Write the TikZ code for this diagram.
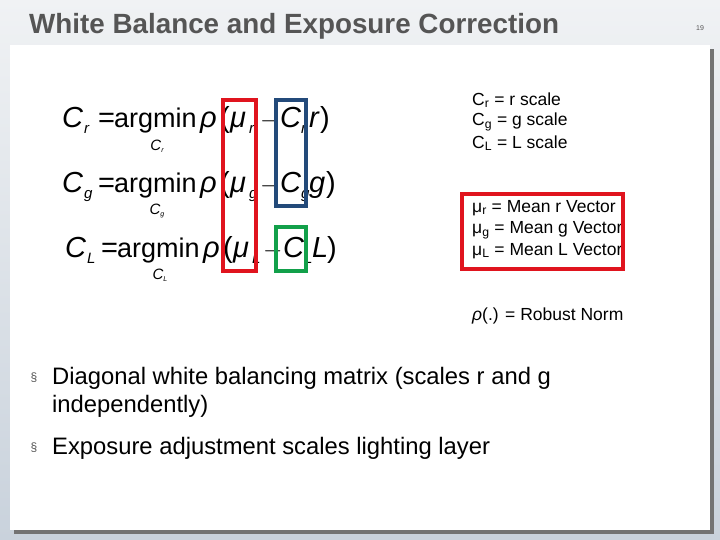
\documentclass[tikz,border=0pt]{standalone}
\usepackage{fontspec}
\setmainfont{Liberation Sans}
\begin{document}
\begin{tikzpicture}[x=1pt,y=-1pt,
  p/.style={anchor=base west,inner sep=0,font=\fontsize{29}{29}\selectfont},
  pa/.style={anchor=base west,inner sep=0,font=\fontsize{27}{27}\selectfont},
  pi/.style={p,font=\fontsize{29}{29}\selectfont\itshape},
  ps/.style={anchor=base west,inner sep=0,font=\fontsize{15}{15}\selectfont\itshape},
  sub/.style={inner sep=0,font=\fontsize{15}{15}\selectfont\itshape},
  note/.style={anchor=west,inner sep=0,font=\fontsize{17.5}{18}\selectfont},
  bul/.style={anchor=west,inner sep=0,font=\fontsize{23.8}{26}\selectfont},
  hbox/.style={line width=3.5pt}]
\definecolor{bgA}{HTML}{C9D2DC}\definecolor{bgB}{HTML}{F0F2F4}
\definecolor{myred}{HTML}{E0141E}\definecolor{myblue}{HTML}{234A7A}\definecolor{mygreen}{HTML}{12A04A}
\definecolor{tgray}{HTML}{555555}
\useasboundingbox (0,0) rectangle (720,540);
\shade[top color=bgB,bottom color=bgA] (0,0) rectangle (720,540);
\fill[black!55] (14,49) rectangle (714,534);
\fill[white] (10,45) rectangle (710,530);
\node[anchor=west,inner sep=0,font=\fontsize{27.8}{28}\selectfont\bfseries,text=tgray] (title) at (29,26) {White Balance and Exposure Correction};
\node[inner sep=0,font=\fontsize{7}{7}\selectfont,text=tgray] (pg) at (700,28) {19};
\foreach \dy/\dx/\s/\v/\n in {128/0/r/r/a, 193/0/g/g/b, 257/3/L/L/c}{
  \node[pi] (c\n) at (62+\dx,\dy) {C};
  \node[ps] (cs\n) at (84+\dx,\dy+6) {\s};
  \node[p] (eq\n) at (98+\dx,\dy) {=};
  \node[pa] (am\n) at (114+\dx,\dy) {argmin};
  \node[pi] (rh\n) at (200+\dx,\dy) {ρ};
  \node[p] (lp\n) at (220+\dx,\dy) {(};
  \node[pi] (mu\n) at (230+\dx,\dy) {μ};
  \node[ps] (ms\n) at (249+\dx,\dy+6) {\s};
  \node[p] (mn\n) at (260+\dx,\dy) {$-$};
  \node[pi] (c2\n) at (280+\dx,\dy) {C};
  \node[ps] (c2s\n) at (301+\dx,\dy+6) {\s};
  \node[pi] (v\n) at (309+\dx,\dy) {\v};
}
\node[p] (rpa) at (320,128) {)};
\node[p] (rpb) at (326,193) {)};
\node[p] (rpc) at (327,257) {)};
\node[sub] (s1) at (157,146) {C\raisebox{-0.3ex}{\scriptsize r}};
\node[sub] (s2) at (157,211) {C\raisebox{-0.3ex}{\scriptsize g}};
\node[sub] (s3) at (160,275) {C\raisebox{-0.3ex}{\scriptsize L}};
\draw[hbox,myred] (223,100) rectangle (256,271);
\draw[hbox,myblue] (276,100) rectangle (306,206);
\draw[hbox,mygreen] (276,227) rectangle (306,271);
\node[note] (n1) at (472,100) {C\textsubscript{r} = r scale};
\node[note] (n2) at (472,122) {C\textsubscript{g} = g scale};
\node[note] (n3) at (472,143) {C\textsubscript{L} = L scale};
\node[note] (m1) at (472,208) {μ\textsubscript{r} = Mean r Vector};
\node[note] (m2) at (472,230) {μ\textsubscript{g} = Mean g Vector};
\node[note] (m3) at (472,251) {μ\textsubscript{L} = Mean L Vector};
\fill[white] (624,195) rectangle (640,268);
\draw[hbox,myred] (462,194) rectangle (623,269);
\node[note] (rho) at (472,316) {{\itshape ρ}(.) = Robust Norm};
\node[inner sep=0,font=\fontsize{12}{12}\selectfont,text=tgray] (b1) at (34,378) {§};
\node[bul] (t1) at (52,378) {Diagonal white balancing matrix (scales r and g};
\node[bul] (t1b) at (52,406) {independently)};
\node[inner sep=0,font=\fontsize{12}{12}\selectfont,text=tgray] (b2) at (34,448) {§};
\node[bul] (t2) at (52,448) {Exposure adjustment scales lighting layer};
\end{tikzpicture}
\end{document}
